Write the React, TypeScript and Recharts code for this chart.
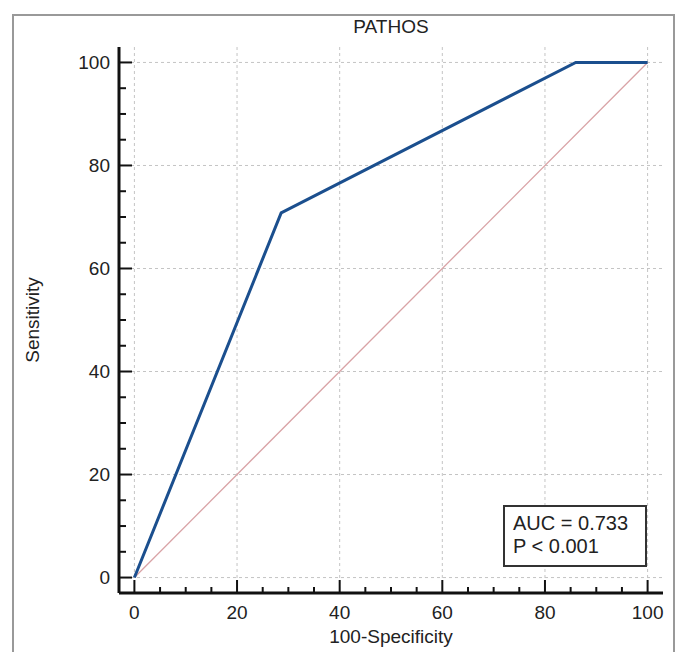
import { LineChart, Line, XAxis, YAxis, CartesianGrid } from "recharts";

const rocX = [0, 28.6, 86, 100];
const rocY = [0, 70.8, 100, 100];
const refX = [0, 100];
const refY = [0, 100];
const allTicks = [0, 5, 10, 15, 20, 25, 30, 35, 40, 45, 50, 55, 60, 65, 70, 75, 80, 85, 90, 95, 100];
const majorTicks = [0, 20, 40, 60, 80, 100];

const rocData = rocX.map((x, i) => ({ x, y: rocY[i] }));
const refData = refX.map((x, i) => ({ x, y: refY[i] }));

const FONT = "'Liberation Sans', Arial, sans-serif";

const YTick = (props: any) => {
  const { x, y, payload } = props;
  const major = majorTicks.includes(payload.value);
  return (
    <g>
      <line x1={x} x2={x + (major ? 13 : 7)} y1={y} y2={y} stroke="#111" strokeWidth={2} />
      {major && (
        <text x={x - 9} y={y} dy={6.5} textAnchor="end" fontSize={19} fontFamily={FONT} fill="#222">
          {payload.value}
        </text>
      )}
    </g>
  );
};

const XTick = (props: any) => {
  const { x, y, payload } = props;
  const major = majorTicks.includes(payload.value);
  return (
    <g>
      <line x1={x} x2={x} y1={y} y2={y - (major ? 13 : 6)} stroke="#111" strokeWidth={2} />
      {major && (
        <text x={x} y={y + 26} textAnchor="middle" fontSize={19} fontFamily={FONT} fill="#222">
          {payload.value}
        </text>
      )}
    </g>
  );
};

export default function App() {
  return (
    <div style={{ position: "absolute", left: 0, top: 0, width: 681, height: 652, overflow: "hidden", background: "#fff" }}>
      <div
        style={{
          position: "absolute",
          left: 12,
          top: 14,
          width: 663,
          height: 700,
          border: "2px solid #999",
          boxSizing: "border-box",
        }}
      />
      <div style={{ position: "absolute", left: 0, top: 0 }}>
        <LineChart width={681} height={652} margin={{ top: 47, right: 18, bottom: 29, left: 0 }}>
          <CartesianGrid
            stroke="#c4c4c4"
            strokeDasharray="3 3"
            horizontalValues={majorTicks}
            verticalValues={majorTicks}
          />
          <XAxis
            type="number"
            dataKey="x"
            domain={[-3, 103]}
            ticks={allTicks}
            interval={0}
            height={30}
            tickSize={0}
            tickMargin={0}
            tickLine={false}
            axisLine={{ stroke: "#111", strokeWidth: 3 }}
            tick={<XTick />}
            allowDataOverflow
          />
          <YAxis
            type="number"
            dataKey="y"
            domain={[-3, 103]}
            ticks={allTicks}
            interval={0}
            width={119}
            tickSize={0}
            tickMargin={0}
            tickLine={false}
            axisLine={{ stroke: "#111", strokeWidth: 3 }}
            tick={<YTick />}
            allowDataOverflow
          />
          <Line
            data={refData}
            dataKey="y"
            stroke="#d9a3a6"
            strokeWidth={1.3}
            dot={false}
            isAnimationActive={false}
          />
          <Line
            data={rocData}
            dataKey="y"
            stroke="#1b4f8e"
            strokeWidth={3}
            dot={false}
            isAnimationActive={false}
          />
        </LineChart>
      </div>
      <div style={{ position: "absolute", left: 0, top: 16, width: 782, textAlign: "center", fontFamily: FONT, fontSize: 19, color: "#222" }}>
        PATHOS
      </div>
      <div
        style={{
          position: "absolute",
          left: 0,
          top: 626,
          width: 782,
          textAlign: "center",
          fontFamily: FONT,
          fontSize: 19,
          color: "#222",
        }}
      >
        100-Specificity
      </div>
      <div
        style={{
          position: "absolute",
          left: 33,
          top: 320,
          transform: "translate(-50%, -50%) rotate(-90deg)",
          fontFamily: FONT,
          fontSize: 19,
          color: "#222",
          whiteSpace: "nowrap",
        }}
      >
        Sensitivity
      </div>
      <div
        style={{
          position: "absolute",
          left: 503,
          top: 505,
          width: 144,
          height: 62,
          border: "2px solid #333",
          boxSizing: "border-box",
          padding: "5px 0 0 8px",
          fontFamily: FONT,
          fontSize: 20,
          lineHeight: "23px",
          color: "#222",
          background: "#fff",
        }}
      >
        <div>AUC = 0.733</div>
        <div>P &lt; 0.001</div>
      </div>
    </div>
  );
}
